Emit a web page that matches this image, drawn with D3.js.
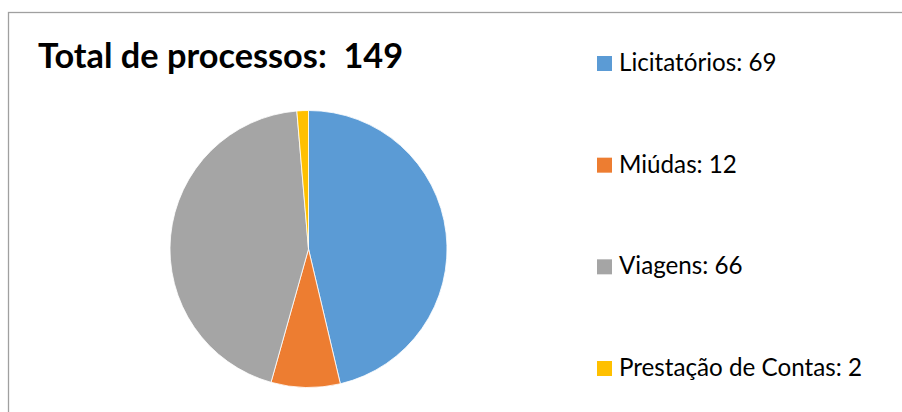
<!DOCTYPE html>
<html>
<head>
<meta charset="utf-8">
<script src="https://cdn.jsdelivr.net/npm/d3@7/dist/d3.min.js"></script>
<style>
  html, body { margin: 0; padding: 0; background: #fff; }
  svg { display: block; font-family: Lato, "Open Sans", sans-serif; }
</style>
</head>
<body>
<div id="chart"></div>
<script>
// dados do gráfico
var categorias = ["Licitatórios", "Miúdas", "Viagens", "Prestação de Contas"];
var valores = [69, 12, 66, 2];
var cores = ["#5B9BD5", "#ED7D31", "#A5A5A5", "#FFC000"];
var titulo = "Total de processos:  " + d3.sum(valores);

var width = 902,
	height = 412;

var svg = d3.select("#chart").append("svg")
	.attr("width", width)
	.attr("height", height);

// borda da área do gráfico (só topo e esquerda ficam visíveis)
svg.append("rect")
	.attr("x", 8.5).attr("y", 12.5)
	.attr("width", width + 20).attr("height", height + 20)
	.attr("fill", "#fff")
	.attr("stroke", "#a0a0a0")
	.attr("stroke-width", 1.3);

svg.append("text")
	.attr("x", 38).attr("y", 68)
	.style("font-size", "34.3px")
	.style("font-weight", "bold")
	.attr("fill", "#000")
	.attr("xml:space", "preserve")
	.style("white-space", "pre")
	.text(titulo);

// pizza
var cx = 308.5, cy = 249, raio = 138.5;

var pie = d3.pie().sort(null).value(function (d) { return d; });
var arc = d3.arc().innerRadius(0).outerRadius(raio);

var g = svg.append("g").attr("transform", "translate(" + cx + "," + cy + ")");
g.selectAll("path")
	.data(pie(valores))
	.enter()
	.append("path")
		.attr("d", arc)
		.attr("fill", function (d, i) { return cores[i]; })
		.attr("stroke", "#fff")
		.attr("stroke-width", 0.8);

// legenda
var y = d3.scalePoint()
	.domain(categorias)
	.range([71, 376]);

var item = svg.selectAll(".leg")
	.data(categorias)
	.enter()
	.append("g")
		.attr("class", "leg")
		.attr("transform", function (d) { return "translate(597," + y(d) + ")"; });

item.append("rect")
	.attr("x", 0).attr("y", -15)
	.attr("width", 15).attr("height", 15)
	.attr("fill", function (d, i) { return cores[i]; });

item.append("text")
	.attr("x", 22).attr("y", 0)
	.style("font-size", "24.2px")
	.attr("fill", "#000")
	.text(function (d, i) { return d + ": " + valores[i]; });
</script>
</body>
</html>
